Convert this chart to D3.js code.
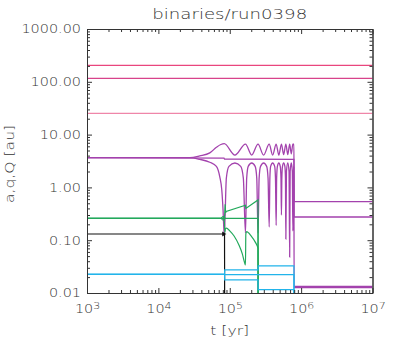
<!DOCTYPE html>
<html>
<head>
<meta charset="utf-8">
<script src="https://cdn.jsdelivr.net/npm/d3@7"></script>
<style>
  body { margin: 0; background: #fff; }
  svg { display: block; }
  text { font-family: "DejaVu Sans", sans-serif; font-weight: 200; fill: #333; }
</style>
</head>
<body>
<div id="chart"></div>
<script>
'use strict';

var title = 'binaries/run0398';
var xTitle = 't\u00a0[yr]';
var yTitle = 'a,q,Q [au]';

// axis ticks
var tDecades = [1e3, 1e4, 1e5, 1e6, 1e7];
var tExponents = ['3', '4', '5', '6', '7'];
var yDecades = [0.01, 0.1, 1, 10, 100, 1000];
var yTickLabels = ['0.01', '0.10', '1.00', '10.00', '100.00', '1000.00'];

// outer orbit (pink): constant
var pinkQ = [[1e3, 205], [1e7, 205]];
var pinkA = [[1e3, 116], [1e7, 116]];
var pinkq = [[1e3, 25.3], [1e7, 25.3]];

// purple orbit
var purpleQ = [[1e3, 3.65], [2.76e4, 3.65], [3.8e4, 3.95], [5.25e4, 4.5], [6.5e4, 5.75],
  [7.5e4, 6.5], [8.38e4, 6.75], [1.18e5, 4.1], [1.66e5, 6.6], [2.03e5, 4.1],
  [2.49e5, 6.6], [2.98e5, 4.1], [3.57e5, 6.6], [3.99e5, 4.1], [4.47e5, 6.6],
  [4.87e5, 4.1], [5.30e5, 6.6], [5.69e5, 4.2], [6.11e5, 6.6], [6.50e5, 4.2],
  [6.91e5, 6.6], [7.28e5, 4.3], [7.66e5, 6.6], [7.93e5, 6.6], [7.97e5, 0.54], [1e7, 0.54]];
var purpleA = [[1e3, 3.65], [8.3e4, 3.6], [8.45e4, 3.45], [7.93e5, 3.4], [7.97e5, 0.275], [1e7, 0.275]];
var purpleq = [[1e3, 3.65], [2.76e4, 3.65], [3.8e4, 3.4], [5.25e4, 3.0], [6.5e4, 2.5],
  [7.24e4, 1.6], [7.73e4, 0.9], [8.06e4, 0.37], [8.38e4, 0.12],
  [8.96e4, 1.5], [9.74e4, 2.5], [1.18e5, 2.9], [1.425e5, 2.5], [1.55e5, 1.5], [1.66e5, 0.137],
  [1.727e5, 1.5], [1.815e5, 2.5], [2.03e5, 2.9], [2.27e5, 2.5], [2.39e5, 1.5], [2.49e5, 0.137],
  [2.58e5, 1.5], [2.70e5, 2.5], [2.98e5, 2.9], [3.29e5, 2.5], [3.44e5, 1.5], [3.57e5, 0.178],
  [3.65e5, 1.5], [3.74e5, 2.5], [3.99e5, 2.9], [4.26e5, 2.5], [4.37e5, 1.5], [4.47e5, 0.19],
  [4.54e5, 1.5], [4.65e5, 2.5], [4.87e5, 2.9], [5.10e5, 2.5], [5.22e5, 1.5], [5.30e5, 0.30],
  [5.37e5, 1.5], [5.48e5, 2.5], [5.69e5, 2.9], [5.92e5, 2.5], [6.03e5, 1.5], [6.11e5, 0.105],
  [6.23e5, 2.0], [6.50e5, 2.9], [6.77e5, 2.0], [6.91e5, 0.048],
  [7.02e5, 2.0], [7.28e5, 2.9], [7.53e5, 2.0], [7.66e5, 0.15],
  [7.85e5, 2.2], [7.93e5, 2.5], [7.97e5, 0.0127], [1e7, 0.0127]];
var purpleLow = [[7.97e5, 0.0134], [1e7, 0.0134]];

// green orbit
var greenA = [[1e3, 0.26], [2.49e5, 0.26], [2.5e5, 0.001]];
var greenQ = [[1e3, 0.26], [8.3e4, 0.26], [8.5e4, 0.3], [8.62e4, 0.48], [8.75e4, 0.33],
  [8.9e4, 0.35], [1.66e5, 0.46], [1.68e5, 0.40], [2.49e5, 0.58], [2.5e5, 0.001]];
var greenq = [[1e3, 0.26], [8.3e4, 0.26], [8.45e4, 0.2], [8.55e4, 0.14], [8.7e4, 0.165],
  [9.0e4, 0.17], [1.0e5, 0.15], [1.15e5, 0.12], [1.35e5, 0.08], [1.5e5, 0.055],
  [1.62e5, 0.037], [1.66e5, 0.034], [1.68e5, 0.13], [1.72e5, 0.145], [2.0e5, 0.12],
  [2.3e5, 0.09], [2.49e5, 0.07], [2.5e5, 0.001]];

// black orbit
var blackA = [[1e3, 0.131], [8.3e4, 0.131], [8.45e4, 0.125], [8.5e4, 0.001]];

// cyan orbit
var cyanA = [[1e3, 0.0226], [8.45e4, 0.0226], [8.5e4, 0.0222], [7.93e5, 0.0222], [7.95e5, 0.001]];
var cyanQ = [[1e3, 0.0226], [8.45e4, 0.0226], [8.5e4, 0.0275], [2.49e5, 0.0275],
  [2.5e5, 0.0325], [7.93e5, 0.0325], [7.95e5, 0.001]];
var cyanq = [[1e3, 0.0226], [8.45e4, 0.0226], [8.5e4, 0.0178], [2.49e5, 0.0178],
  [2.5e5, 0.0116], [7.93e5, 0.0116], [7.95e5, 0.001]];

// small markers where the inner pairs change
var greenMark = [[8.1e4, 0.26]];
var blackMark = [[8.2e4, 0.131]];

var width = 399, height = 349;
var plotLeft = 87, plotRight = 372.5, plotTop = 29, plotBottom = 293;

var x = d3.scaleLog().domain([1e3, 1e7]).range([plotLeft, plotRight]);
var y = d3.scaleLog().domain([0.01, 1000]).range([plotBottom, plotTop]);

var svg = d3.select('#chart').append('svg')
  .attr('width', width)
  .attr('height', height);

svg.append('defs').append('clipPath').attr('id', 'plot-clip')
  .append('rect')
  .attr('x', plotLeft).attr('y', plotTop)
  .attr('width', plotRight - plotLeft).attr('height', plotBottom - plotTop);

// stretch text horizontally, the old plot fonts are wide
function stretch(sel, f) {
  sel.each(function () {
    var w = this.getComputedTextLength();
    this.setAttribute('textLength', w * f);
    this.setAttribute('lengthAdjust', 'spacingAndGlyphs');
  });
}

function minors(decades) {
  var out = [];
  for (var i = 0; i < decades.length - 1; i++) {
    for (var k = 2; k <= 9; k++) out.push(decades[i] * k);
  }
  return out;
}

var plot = svg.append('g').attr('clip-path', 'url(#plot-clip)');

var lineLin = d3.line()
  .x(function (d) { return x(d[0]); })
  .y(function (d) { return y(d[1]); });
var lineSmooth = d3.line()
  .x(function (d) { return x(d[0]); })
  .y(function (d) { return y(d[1]); })
  .curve(d3.curveMonotoneX);

var series = [
  {data: purpleA, color: '#a342ad', w: 1.3, line: lineLin},
  {data: purpleQ, color: '#a342ad', w: 1.3, line: lineSmooth},
  {data: purpleq, color: '#a342ad', w: 1.3, line: lineSmooth},
  {data: purpleLow, color: '#a342ad', w: 1.2, line: lineLin},
  {data: greenA, color: '#22a95b', w: 1.2, line: lineLin},
  {data: greenQ, color: '#22a95b', w: 1.2, line: lineLin},
  {data: greenq, color: '#22a95b', w: 1.2, line: lineSmooth},
  {data: blackA, color: '#111111', w: 1.2, line: lineLin},
  {data: cyanA, color: '#22b4ea', w: 1.2, line: lineLin},
  {data: cyanQ, color: '#22b4ea', w: 1.2, line: lineLin},
  {data: cyanq, color: '#22b4ea', w: 1.2, line: lineLin},
  {data: pinkQ, color: '#e9467e', w: 1.2, line: lineLin},
  {data: pinkA, color: '#d8438b', w: 1.2, line: lineLin},
  {data: pinkq, color: '#ef86a9', w: 1.2, line: lineLin}
];

plot.selectAll('path.orbit')
  .data(series)
  .enter().append('path')
  .attr('class', 'orbit')
  .attr('d', function (d) { return d.line(d.data); })
  .attr('fill', 'none')
  .attr('stroke', function (d) { return d.color; })
  .attr('stroke-width', function (d) { return d.w; });

plot.selectAll('circle.gmark')
  .data(greenMark)
  .enter().append('circle')
  .attr('class', 'gmark')
  .attr('cx', function (d) { return x(d[0]); })
  .attr('cy', function (d) { return y(d[1]); })
  .attr('r', 1.8)
  .attr('fill', 'none')
  .attr('stroke', '#22a95b')
  .attr('stroke-width', 1);

plot.selectAll('path.bmark')
  .data(blackMark)
  .enter().append('path')
  .attr('class', 'bmark')
  .attr('transform', function (d) { return 'translate(' + x(d[0]) + ',' + y(d[1]) + ') rotate(90)'; })
  .attr('d', d3.symbol().type(d3.symbolTriangle).size(10))
  .attr('fill', '#111');

// axes, ticks point inward on all four sides
function styleAxis(g) {
  g.selectAll('path.domain').attr('stroke', '#333').attr('stroke-width', 1);
  g.selectAll('.tick line').attr('stroke', '#333').attr('stroke-width', 1);
}

var xMinor = minors(tDecades);
var yMinor = minors(yDecades);

svg.append('g').attr('transform', 'translate(0,' + plotBottom + ')')
  .call(d3.axisBottom(x).tickValues(xMinor).tickSizeInner(-3).tickSizeOuter(0).tickFormat(''))
  .call(styleAxis);
var xAxis = svg.append('g').attr('transform', 'translate(0,' + plotBottom + ')')
  .call(d3.axisBottom(x).tickValues(tDecades).tickSizeInner(-5).tickSizeOuter(0).tickPadding(9)
    .tickFormat(function () { return ''; }))
  .call(styleAxis);
svg.append('g').attr('transform', 'translate(0,' + plotTop + ')')
  .call(d3.axisTop(x).tickValues(xMinor).tickSizeInner(-3).tickSizeOuter(0).tickFormat(''))
  .call(styleAxis);
svg.append('g').attr('transform', 'translate(0,' + plotTop + ')')
  .call(d3.axisTop(x).tickValues(tDecades).tickSizeInner(-5).tickSizeOuter(0).tickFormat(''))
  .call(styleAxis);

svg.append('g').attr('transform', 'translate(' + plotLeft + ',0)')
  .call(d3.axisLeft(y).tickValues(yMinor).tickSizeInner(-3).tickSizeOuter(0).tickFormat(''))
  .call(styleAxis);
var yAxis = svg.append('g').attr('transform', 'translate(' + plotLeft + ',0)')
  .call(d3.axisLeft(y).tickValues(yDecades).tickSizeInner(-5).tickSizeOuter(0).tickPadding(6)
    .tickFormat(function (d, i) { return yTickLabels[i]; }))
  .call(styleAxis);
svg.append('g').attr('transform', 'translate(' + plotRight + ',0)')
  .call(d3.axisRight(y).tickValues(yMinor).tickSizeInner(-3).tickSizeOuter(0).tickFormat(''))
  .call(styleAxis);
svg.append('g').attr('transform', 'translate(' + plotRight + ',0)')
  .call(d3.axisRight(y).tickValues(yDecades).tickSizeInner(-5).tickSizeOuter(0).tickFormat(''))
  .call(styleAxis);

yAxis.selectAll('.tick text')
  .attr('fill', '#333')
  .style('font-size', '12px')
  .call(stretch, 1.2);

// x tick labels as 10 with superscript exponent
xAxis.selectAll('.tick text').each(function (d, i) {
  var t = d3.select(this)
    .attr('fill', '#333')
    .attr('dy', null)
    .attr('y', 20)
    .style('font-size', '12.5px');
  t.append('tspan').text('10');
  t.append('tspan').attr('dy', -4.5).style('font-size', '9.5px').text(tExponents[i]);
});
xAxis.selectAll('.tick text').call(stretch, 1.15);

svg.append('text')
  .attr('x', (plotLeft + plotRight) / 2)
  .attr('y', 19)
  .attr('text-anchor', 'middle')
  .style('font-size', '14.5px')
  .text(title)
  .call(stretch, 1.25);

svg.append('text')
  .attr('x', (plotLeft + plotRight) / 2)
  .attr('y', 335)
  .attr('text-anchor', 'middle')
  .style('font-size', '13px')
  .text(xTitle)
  .call(stretch, 1.2);

svg.append('text')
  .attr('transform', 'translate(14,164) rotate(-90)')
  .attr('text-anchor', 'middle')
  .style('font-size', '13px')
  .text(yTitle)
  .call(stretch, 1.2);
</script>
</body>
</html>
